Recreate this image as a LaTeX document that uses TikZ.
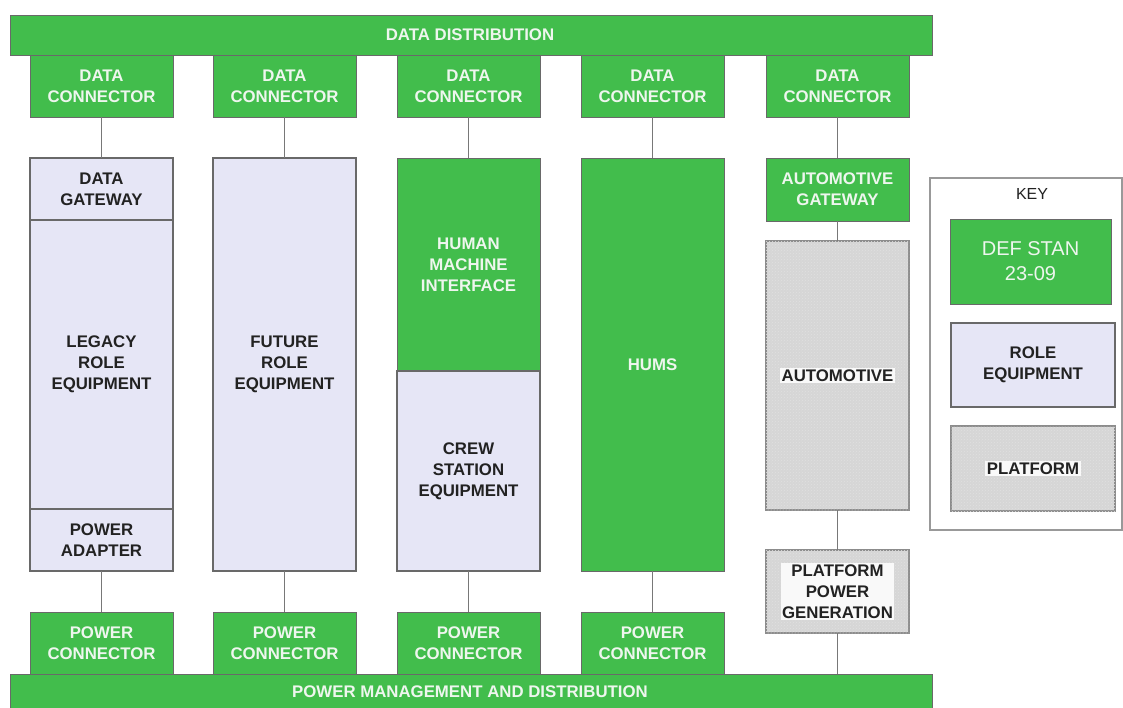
\documentclass[tikz,border=0pt]{standalone}
\usepackage{fontspec}
\setmainfont{Liberation Sans}
\usetikzlibrary{patterns}
\definecolor{dgreen}{RGB}{66,189,76}
\definecolor{lav}{RGB}{230,230,246}
\definecolor{plat}{RGB}{214,214,214}
\definecolor{edgec}{RGB}{105,105,105}
\definecolor{linec}{RGB}{120,120,120}
\definecolor{wtext}{RGB}{238,246,238}
\definecolor{dtext}{RGB}{34,34,34}
\begin{document}
\begin{tikzpicture}[x=1pt,y=-1pt,
  lbl/.style={font=\bfseries\fontsize{16.8}{21}\selectfont,align=center},
  gbox/.style={draw=edgec,line width=0.8pt,fill=dgreen,text=wtext,lbl,anchor=north west,inner sep=0pt,outer sep=0pt},
  lbox/.style={draw=edgec,line width=1.1pt,fill=lav,text=dtext,lbl,anchor=north west,inner sep=0pt,outer sep=0pt},
  pbox/.style={draw=black!45,line width=1.6pt,fill=plat,anchor=north west,inner sep=0pt,outer sep=0pt,
     postaction={pattern=crosshatch dots,pattern color=black!12}},
  plbl/.style={lbl,text=dtext,fill=white!85!plat,inner sep=1.5pt},
  conn/.style={draw=linec,line width=1.2pt}]
\useasboundingbox (0,0) rectangle (1123,708);
\fill[white] (0,0) rectangle (1123,708);
% bars
\node[gbox,minimum width=922,minimum height=40] (dd) at (10,15) {};
\node[lbl,text=wtext] at (470,35) {DATA DISTRIBUTION};
\node[gbox,minimum width=922,minimum height=34] (pmd) at (10,674) {};
\node[lbl,text=wtext] at (470,692) {POWER MANAGEMENT AND DISTRIBUTION};
% data connectors
\foreach \i/\x in {1/30,2/213,3/397,4/581,5/766}{
  \node[gbox,minimum width=143,minimum height=62] (dc\i) at (\x,55) {DATA\\CONNECTOR};
}
% power connectors
\foreach \i/\x in {1/30,2/213,3/397,4/581}{
  \node[gbox,minimum width=143,minimum height=62] (pc\i) at (\x,612) {POWER\\CONNECTOR};
}
% column 1
\node[lbox,minimum width=143,minimum height=62] (gw1) at (30,158) {DATA\\GATEWAY};
\node[lbox,minimum width=143,minimum height=289] (leg1) at (30,220) {LEGACY\\ROLE\\EQUIPMENT};
\node[lbox,minimum width=143,minimum height=62] (pa1) at (30,509) {POWER\\ADAPTER};
% column 2
\node[lbox,minimum width=143,minimum height=413] (fut2) at (213,158) {FUTURE\\ROLE\\EQUIPMENT};
% column 3
\node[gbox,minimum width=143,minimum height=213] (hmi3) at (397,158) {HUMAN\\MACHINE\\INTERFACE};
\node[lbox,minimum width=143,minimum height=200] (crew3) at (397,371) {CREW\\STATION\\EQUIPMENT};
% column 4
\node[gbox,minimum width=143,minimum height=413] (hums4) at (581,158) {HUMS};
% column 5
\node[gbox,minimum width=143,minimum height=63] (agw5) at (766,158) {AUTOMOTIVE\\GATEWAY};
\node[pbox,minimum width=143,minimum height=269] (auto5) at (766,241) {};
\node[plbl] at (auto5.center) {AUTOMOTIVE};
\node[pbox,minimum width=143,minimum height=83] (ppg5) at (766,550) {};
\node[plbl] at (ppg5.center) {PLATFORM\\POWER\\GENERATION};
% connectors
\foreach \i/\t in {1/gw1,2/fut2,3/hmi3,4/hums4,5/agw5}{
  \draw[conn] (dc\i.south) -- (\t.north);
}
\draw[conn] (pa1.south) -- (pc1.north);
\draw[conn] (fut2.south) -- (pc2.north);
\draw[conn] (crew3.south) -- (pc3.north);
\draw[conn] (hums4.south) -- (pc4.north);
\draw[conn] (agw5.south) -- (auto5.north);
\draw[conn] (auto5.south) -- (ppg5.north);
\coordinate (pmd5) at (ppg5.south |- pmd.north);
\draw[conn] (ppg5.south) -- (pmd5);
% key
\node[draw=black!40,line width=1.2pt,fill=white,anchor=north west,minimum width=192,minimum height=352,inner sep=0pt,outer sep=0pt] (key) at (930,178) {};
\node[font=\fontsize{16}{18}\selectfont,text=dtext] (keyt) at (1032,194) {KEY};
\node[gbox,minimum width=161,minimum height=85,font=\fontsize{20}{25}\selectfont] (keydef) at (950,219) {DEF STAN\\23-09};
\node[lbox,minimum width=164,minimum height=84] (keyrole) at (951,323) {ROLE\\EQUIPMENT};
\node[pbox,minimum width=164,minimum height=85] (keyplat) at (951,426) {};
\node[plbl] at (keyplat.center) {PLATFORM};
\end{tikzpicture}
\end{document}
